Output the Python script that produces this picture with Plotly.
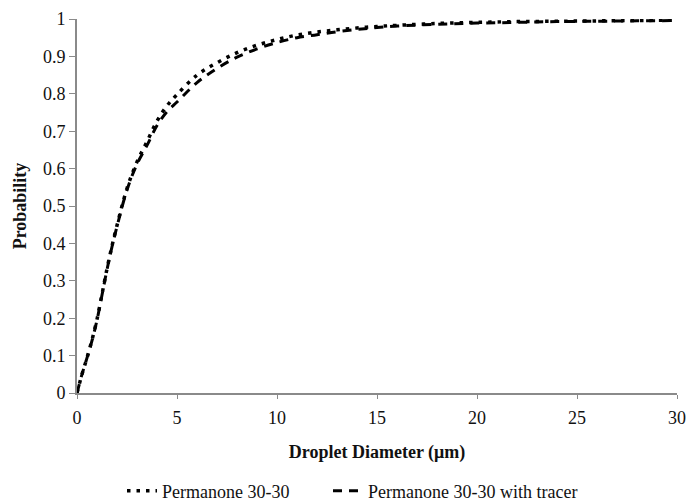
import plotly.graph_objects as go

diameter = [0, 0.25, 0.5, 0.75, 1, 1.25, 1.5, 1.75, 2, 2.5, 3, 3.5, 4, 4.5, 5,
            6, 7, 8, 9, 10, 11, 12, 13, 14, 15, 16, 18, 20, 22, 24, 26, 28, 30]

prob_permanone = [0, 0.05, 0.094, 0.142, 0.197, 0.264, 0.332, 0.393, 0.448, 0.547,
                  0.618, 0.672, 0.727, 0.768, 0.798, 0.850, 0.883, 0.910, 0.930,
                  0.945, 0.957, 0.965, 0.971, 0.976, 0.980, 0.983, 0.988, 0.991,
                  0.993, 0.994, 0.995, 0.996, 0.997]

prob_tracer = [0, 0.05, 0.094, 0.140, 0.195, 0.262, 0.330, 0.391, 0.445, 0.543,
               0.612, 0.662, 0.715, 0.752, 0.778, 0.830, 0.868, 0.898, 0.920,
               0.937, 0.950, 0.958, 0.966, 0.972, 0.977, 0.981, 0.986, 0.989,
               0.991, 0.993, 0.994, 0.995, 0.996]

series_names = ["Permanone 30-30", "Permanone 30-30 with tracer"]

FONT = "Liberation Serif, Times New Roman, serif"
FS = 18
W, H = 686, 501

fig = go.Figure()
fig.add_trace(go.Scatter(
    x=diameter, y=prob_permanone, mode="lines", name=series_names[0],
    legend="legend",
    line=dict(color="black", width=3.5, dash="3.5px,6px", shape="spline"),
))
fig.add_trace(go.Scatter(
    x=diameter, y=prob_tracer, mode="lines", name=series_names[1],
    legend="legend2",
    line=dict(color="black", width=3, dash="9px,7px", shape="spline"),
))

legend_common = dict(orientation="h", xref="container", yref="container",
                     xanchor="left", yanchor="middle", y=1 - 491 / H,
                     bgcolor="rgba(0,0,0,0)",
                     font=dict(family=FONT, size=FS, color="#111"))

fig.update_layout(
    width=W, height=H,
    margin=dict(l=77, r=9, t=19, b=108),
    paper_bgcolor="white", plot_bgcolor="white",
    font=dict(family=FONT, size=FS, color="#111"),
    showlegend=True,
    legend=dict(x=122 / W, **legend_common),
    legend2=dict(x=328 / W, **legend_common),
    xaxis=dict(
        range=[0, 30], dtick=5, tick0=0, automargin=False,
        showgrid=False, zeroline=False,
        showline=True, linecolor="#8a8a8a", linewidth=2,
        ticks="outside", ticklen=4, tickcolor="#8a8a8a", tickwidth=1,
        ticklabelstandoff=3,
        tickfont=dict(family=FONT, size=FS, color="#111"),
        title=dict(text="<b>Droplet Diameter (μm)</b>", standoff=19,
                   font=dict(family=FONT, size=FS, color="#111")),
    ),
    yaxis=dict(
        range=[0, 1], dtick=0.1, tick0=0, automargin=False,
        showgrid=False, zeroline=False,
        showline=True, linecolor="#8a8a8a", linewidth=2,
        ticks="outside", ticklen=6, tickcolor="#8a8a8a", tickwidth=1,
        tickfont=dict(family=FONT, size=FS, color="#111"),
        title=dict(text="<b>Probability</b>", standoff=12,
                   font=dict(family=FONT, size=FS, color="#111")),
    ),
)

fig.write_html("out.html",
               config={"displayModeBar": False},
               post_script="document.body.style.margin='0';document.body.style.overflow='hidden';")
